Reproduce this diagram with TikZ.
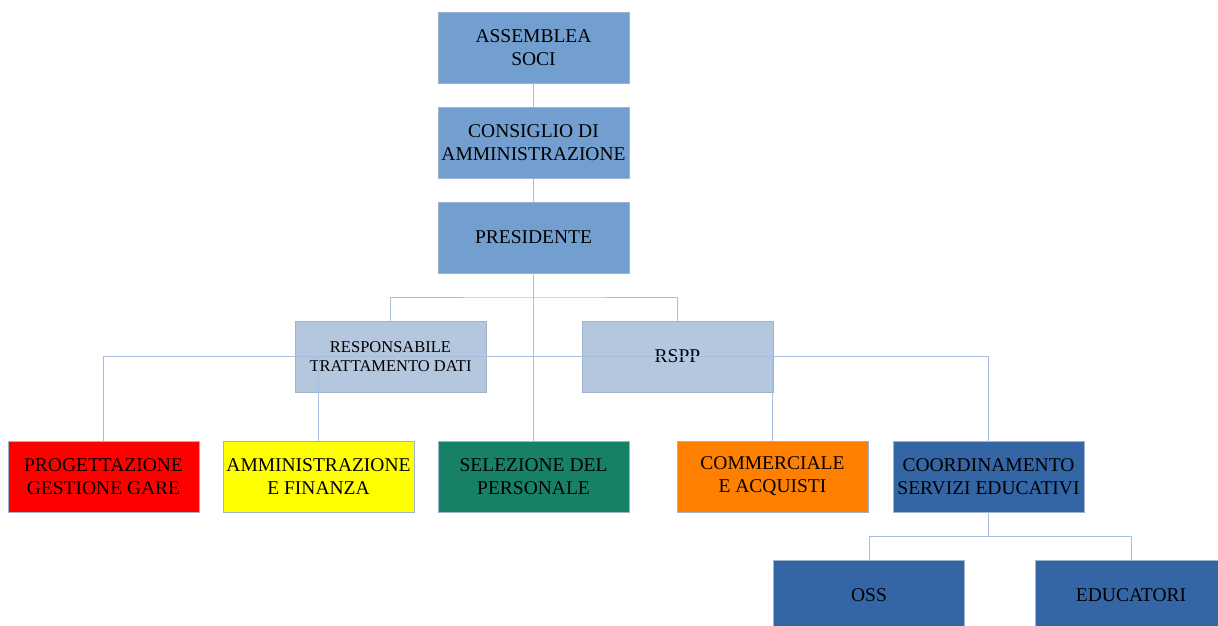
\documentclass[tikz,border=0pt]{standalone}
\usepackage{fontspec}
\setmainfont{Liberation Serif}
\usetikzlibrary{positioning, calc}
\definecolor{topBlue}{RGB}{114,159,207}
\definecolor{paleBlue}{RGB}{180,199,222}
\definecolor{darkBlue}{RGB}{52,101,164}
\definecolor{deepGreen}{RGB}{22,129,102}
\definecolor{brightOrange}{RGB}{255,128,0}
\definecolor{pureYellow}{RGB}{255,255,0}
\definecolor{edgeBlue}{RGB}{168,190,222}
\definecolor{rimGrey}{RGB}{160,178,204}

\begin{document}
\begin{tikzpicture}[x=1pt, y=-1pt, node distance=24pt and 24pt]
  % Define styles
  \tikzstyle{unit} = [rectangle, minimum width=191pt, minimum height=71pt, inner sep=0pt, outer sep=0pt, text centered, align=center, draw=rimGrey, line width=0.5pt, font=\fontsize{19.5}{23}\selectfont]
  \tikzstyle{board} = [unit, fill=topBlue]
  \tikzstyle{staff} = [unit, fill=paleBlue]
  \tikzstyle{office} = [unit, fill=darkBlue]
  \tikzstyle{conn} = [draw=edgeBlue, line width=0.8pt]

  \useasboundingbox (0,0) rectangle (1218,625);

  % Place nodes
  \node [board] (presidente) at (533.5,237.5) {PRESIDENTE};
  \node [board, above=of presidente] (consiglio) {CONSIGLIO DI\\AMMINISTRAZIONE};
  \node [board, above=of consiglio] (assemblea) {ASSEMBLEA\\SOCI};
  \node [staff, font=\fontsize{16.5}{19}\selectfont, below=48pt of presidente, xshift=-143pt] (responsabile) {RESPONSABILE\\TRATTAMENTO DATI};
  \node [staff, right=96pt of responsabile] (rspp) {RSPP};
  \node [unit, fill=deepGreen, below=168pt of presidente] (selezione) {SELEZIONE DEL\\PERSONALE};
  \node [unit, fill=pureYellow, left=of selezione] (amministrazione) {AMMINISTRAZIONE\\E FINANZA};
  \node [unit, fill=red, left=of amministrazione] (progettazione) {PROGETTAZIONE\\GESTIONE GARE};
  \node [unit, fill=brightOrange, right=48pt of selezione] (commerciale) {COMMERCIALE\\E ACQUISTI};
  \node [office, right=25pt of commerciale] (coordinamento) {COORDINAMENTO\\SERVIZI EDUCATIVI};
  \node [office, below=48pt of coordinamento, xshift=-119.5pt] (oss) {OSS};
  \node [office, right=71pt of oss] (educatori) {EDUCATORI};

  % Bus points
  \coordinate [below=24pt of presidente] (busTop);
  \coordinate (busMid) at (presidente |- responsabile.center);
  \coordinate [below=24pt of coordinamento] (busLow);

  % Draw edges
  \path [conn] (assemblea) -- (consiglio);
  \path [conn] (consiglio) -- (presidente);
  \path [conn] (presidente) -- (selezione);
  \path [conn] (responsabile.north) |- (busTop) -| (rspp.north);
  \path [conn] (progettazione.north) |- (busMid) -| (coordinamento.north);
  \path [conn] (amministrazione.north) -- (amministrazione |- busMid);
  \path [conn] (commerciale.north) -- (commerciale |- busMid);
  \path [conn] (coordinamento) -- (busLow);
  \path [conn] (oss.north) |- (busLow) -| (educatori.north);

\end{tikzpicture}
\end{document}
